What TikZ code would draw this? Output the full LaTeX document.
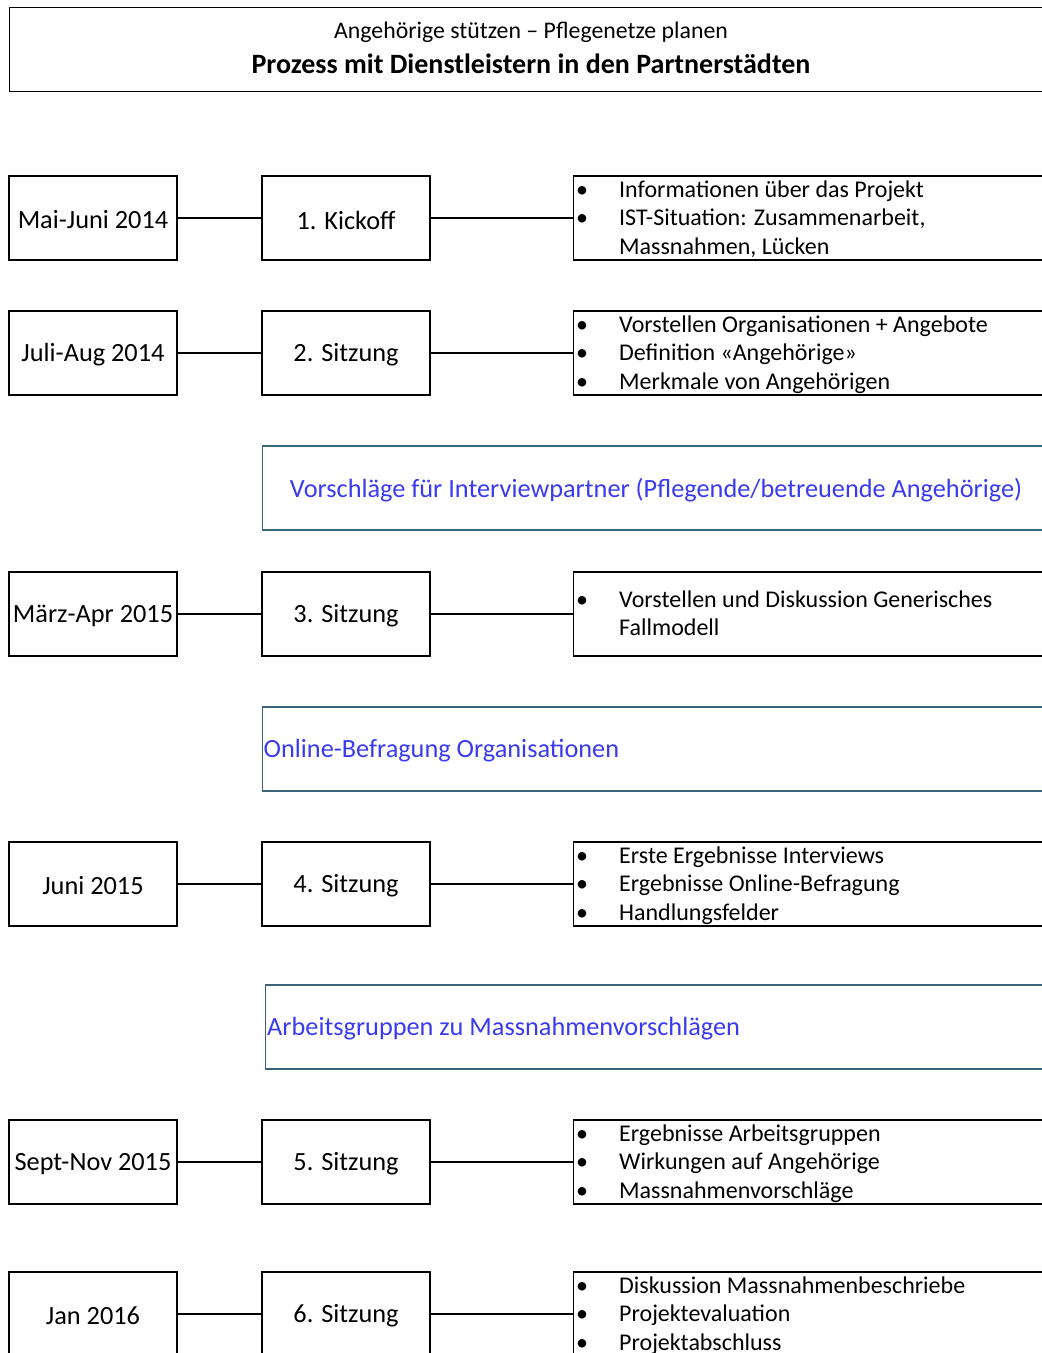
\documentclass[tikz,border=0pt]{standalone}
\usepackage{fontspec}
\setmainfont{Carlito}
\usepackage{array}
\definecolor{bluetext}{HTML}{3A3AF0}
\definecolor{blueframe}{HTML}{3C6478}
\begin{document}
\begin{tikzpicture}[x=1pt,y=-1pt,
  every node/.style={font=\fontsize{26.3}{31}\selectfont},
  box/.style={draw=black, line width=1.2pt, minimum width=168pt, minimum height=84pt, inner sep=0pt},
  rbox/.style={draw=black, line width=1.2pt, minimum width=478pt, minimum height=84pt, inner sep=0pt, anchor=west},
  bbox/.style={draw=blueframe, line width=1.2pt, minimum height=84pt, inner sep=0pt, anchor=west},
  btext/.style={text=bluetext, inner sep=0pt, anchor=west, yshift=-2pt},
  rtext/.style={inner sep=0pt, anchor=west, align=left, yshift=-2pt, font=\fontsize{24}{28.5}\selectfont},
  dtext/.style={inner sep=0pt, yshift=-2pt},
  conn/.style={line width=1.2pt}
]
\useasboundingbox (0,0) rectangle (1042,1353);
\newcommand{\blist}[1]{\begin{tabular}{@{}>{\raggedright}p{43pt}@{}l@{}}#1\end{tabular}}

% title
\node[draw=black, line width=1.2pt, minimum width=1041pt, minimum height=84pt, anchor=north west, inner sep=0pt] (title) at (9,7) {};
\node[font=\fontsize{23.8}{28}\selectfont, inner sep=0pt] (t1) at (531,32) {Angehörige stützen – Pflegenetze planen};
\node[font=\fontsize{28}{32}\selectfont\bfseries, inner sep=0pt] (t2) at (531,64) {Prozess mit Dienstleistern in den Partnerstädten};

% row 1
\node[box] (d1) at (93,218) {};
\node[dtext] (d1t) at (d1) {Mai-Juni 2014};
\node[box] (s1) at (346,218) {};
\node[dtext] (s1t) at (s1) {1. Kickoff};
\node[rbox] (r1) at (573,218) {};
\node[rtext] (r1t) at (576,218) {\blist{•&Informationen über das Projekt\\ •&IST-Situation: Zusammenarbeit,\\ &Massnahmen, Lücken}};
\draw[conn] (d1.east) -- (s1.west);
\draw[conn] (s1.east) -- (r1.west);

% row 2
\node[box] (d2) at (93,353) {};
\node[dtext] (d2t) at (d2) {Juli-Aug 2014};
\node[box] (s2) at (346,353) {};
\node[dtext] (s2t) at (s2) {2. Sitzung};
\node[rbox] (r2) at (573,353) {};
\node[rtext] (r2t) at (576,353) {\blist{•&Vorstellen Organisationen + Angebote\\ •&Definition «Angehörige»\\ •&Merkmale von Angehörigen}};
\draw[conn] (d2.east) -- (s2.west);
\draw[conn] (s2.east) -- (r2.west);

% blue 1
\node[bbox, minimum width=790pt] (b1) at (262,488) {};
\node[text=bluetext, inner sep=0pt, yshift=-2pt] (b1t) at (656,488) {Vorschläge für Interviewpartner (Pflegende/betreuende Angehörige)};

% row 3
\node[box] (d3) at (93,614) {};
\node[dtext] (d3t) at (d3) {März-Apr 2015};
\node[box] (s3) at (346,614) {};
\node[dtext] (s3t) at (s3) {3. Sitzung};
\node[rbox] (r3) at (573,614) {};
\node[rtext] (r3t) at (576,614) {\blist{•&Vorstellen und Diskussion Generisches\\ &Fallmodell}};
\draw[conn] (d3.east) -- (s3.west);
\draw[conn] (s3.east) -- (r3.west);

% blue 2
\node[bbox, minimum width=790pt] (b2) at (262,749) {};
\node[btext] (b2t) at (263.5,749) {Online-Befragung Organisationen};

% row 4
\node[box] (d4) at (93,884) {};
\node[dtext] (d4t) at (d4) {Juni 2015};
\node[box] (s4) at (346,884) {};
\node[dtext] (s4t) at (s4) {4. Sitzung};
\node[rbox] (r4) at (573,884) {};
\node[rtext] (r4t) at (576,884) {\blist{•&Erste Ergebnisse Interviews\\ •&Ergebnisse Online-Befragung\\ •&Handlungsfelder}};
\draw[conn] (d4.east) -- (s4.west);
\draw[conn] (s4.east) -- (r4.west);

% blue 3
\node[bbox, minimum width=787pt] (b3) at (265,1027) {};
\node[btext] (b3t) at (267,1027) {Arbeitsgruppen zu Massnahmenvorschlägen};

% row 5
\node[box] (d5) at (93,1162) {};
\node[dtext] (d5t) at (d5) {Sept-Nov 2015};
\node[box] (s5) at (346,1162) {};
\node[dtext] (s5t) at (s5) {5. Sitzung};
\node[rbox] (r5) at (573,1162) {};
\node[rtext] (r5t) at (576,1162) {\blist{•&Ergebnisse Arbeitsgruppen\\ •&Wirkungen auf Angehörige\\ •&Massnahmenvorschläge}};
\draw[conn] (d5.east) -- (s5.west);
\draw[conn] (s5.east) -- (r5.west);

% row 6
\node[box] (d6) at (93,1314) {};
\node[dtext] (d6t) at (d6) {Jan 2016};
\node[box] (s6) at (346,1314) {};
\node[dtext] (s6t) at (s6) {6. Sitzung};
\node[rbox] (r6) at (573,1314) {};
\node[rtext] (r6t) at (576,1314) {\blist{•&Diskussion Massnahmenbeschriebe\\ •&Projektevaluation\\ •&Projektabschluss}};
\draw[conn] (d6.east) -- (s6.west);
\draw[conn] (s6.east) -- (r6.west);
\end{tikzpicture}
\end{document}
